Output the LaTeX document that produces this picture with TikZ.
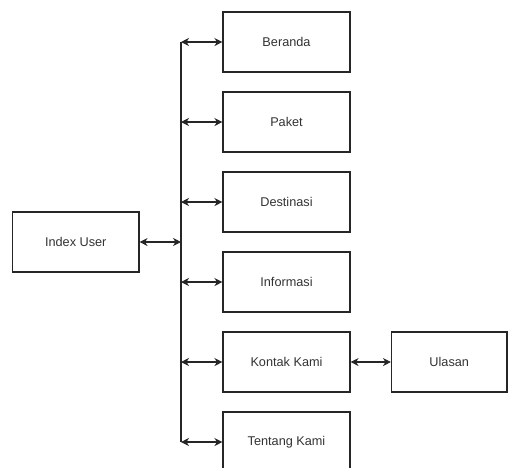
\documentclass[tikz,border=0pt]{standalone}
\usepackage{fontspec}
\setmainfont{Liberation Sans}
\usetikzlibrary{arrows.meta}
\begin{document}
\begin{tikzpicture}[x=1pt,y=-1pt,
  box/.style={draw=black!85, line width=1.1pt, fill=white, minimum height=60pt,
    inner sep=0pt, font=\fontsize{12.7}{14}\selectfont, text=black!80},
  menubox/.style={box, minimum width=127pt},
  link/.style={draw=black!85, line width=1.1pt,
    {Stealth[length=8pt,width=8pt,inset=2.5pt]}-{Stealth[length=8pt,width=8pt,inset=2.5pt]}},
  bus/.style={draw=black!85, line width=1.1pt}]
\useasboundingbox (0,0) rectangle (508,467);

% main page
\node[box, minimum width=126.5pt] (idx) at (75.75,242) {Index User};

% menu pages
\node[menubox] (beranda)   at (286.5,42)  {Beranda};
\node[menubox] (paket)     at (286.5,122) {Paket};
\node[menubox] (destinasi) at (286.5,202) {Destinasi};
\node[menubox] (informasi) at (286.5,282) {Informasi};
\node[menubox] (kontak)    at (286.5,362) {Kontak Kami};
\node[menubox] (tentang)   at (286.5,442) {Tentang Kami};
\node[box, minimum width=115.5pt] (ulasan) at (449.25,362) {Ulasan};

% vertical bus and its taps
\coordinate (b1) at (181,42);
\coordinate (b2) at (181,122);
\coordinate (b3) at (181,202);
\coordinate (bi) at (181,242);
\coordinate (b4) at (181,282);
\coordinate (b5) at (181,362);
\coordinate (b6) at (181,442);
\draw[bus] (b1) -- (b6);

\draw[link] (b1) -- (beranda.west);
\draw[link] (b2) -- (paket.west);
\draw[link] (b3) -- (destinasi.west);
\draw[link] (idx.east) -- (bi);
\draw[link] (b4) -- (informasi.west);
\draw[link] (b5) -- (kontak.west);
\draw[link] (b6) -- (tentang.west);
\draw[link] (kontak.east) -- (ulasan.west);
\end{tikzpicture}
\end{document}
